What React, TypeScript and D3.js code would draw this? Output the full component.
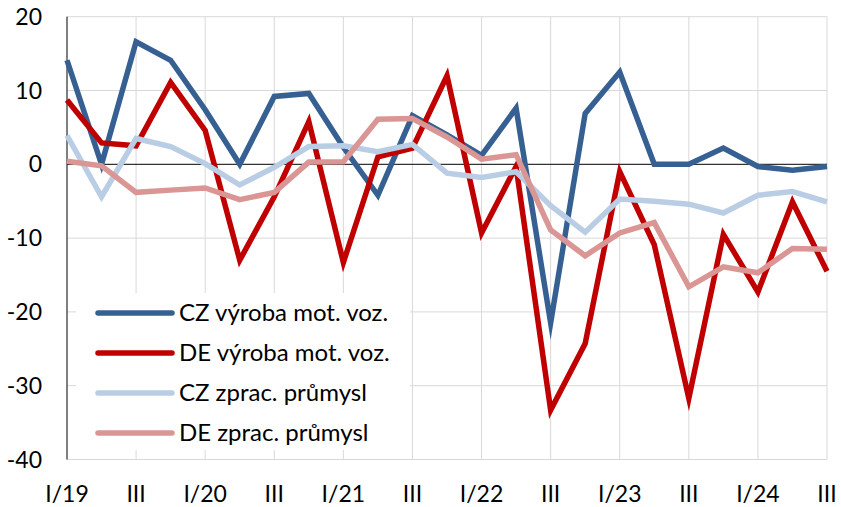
import React, { useEffect, useRef } from "react";
import * as d3 from "d3";

// quarters I/19 .. III/24
const quarters = [
  "I/19", "II/19", "III/19", "IV/19",
  "I/20", "II/20", "III/20", "IV/20",
  "I/21", "II/21", "III/21", "IV/21",
  "I/22", "II/22", "III/22", "IV/22",
  "I/23", "II/23", "III/23", "IV/23",
  "I/24", "II/24", "III/24",
];
const tickLabels = ["I/19", "III", "I/20", "III", "I/21", "III", "I/22", "III", "I/23", "III", "I/24", "III"];

const czCars = [14.1, 0, 16.6, 14.1, 7.4, 0.0, 9.2, 9.6, 2.3, -4.2, 6.6, 4.0, 1.2, 7.6, -21.5, 6.9, 12.5, 0, 0, 2.2, -0.3, -0.8, -0.3];
const deCars = [8.7, 2.9, 2.5, 11.1, 4.6, -13.0, -4.4, 5.8, -13.3, 1.0, 2.2, 12.0, -9.3, -0.3, -33.3, -24.3, -1.0, -10.9, -31.7, -9.5, -17.3, -5.1, -14.5];
const czManuf = [3.9, -4.4, 3.5, 2.4, 0.1, -2.8, -0.4, 2.4, 2.5, 1.7, 2.7, -1.2, -1.8, -1.0, -5.6, -9.2, -4.7, -5.0, -5.4, -6.6, -4.2, -3.7, -5.1];
const deManuf = [0.4, -0.2, -3.8, -3.5, -3.2, -4.8, -3.8, 0.3, 0.35, 6.1, 6.2, 3.7, 0.7, 1.3, -8.9, -12.4, -9.3, -7.9, -16.6, -13.9, -14.7, -11.4, -11.5];

const series = [
  { name: "CZ výroba mot. voz.", values: czCars, color: "#376092" },
  { name: "DE výroba mot. voz.", values: deCars, color: "#c00000" },
  { name: "CZ zprac. průmysl", values: czManuf, color: "#b9cde5" },
  { name: "DE zprac. průmysl", values: deManuf, color: "#d99694" },
];

const yTicks = [20, 10, 0, -10, -20, -30, -40];

const width = 841;
const height = 507;
const font = "Lato, 'Noto Sans', sans-serif";

const App = () => {
  const ref = useRef<SVGSVGElement>(null);

  useEffect(() => {
    const svg = d3.select(ref.current);
    svg.selectAll("*").remove();

    const x = d3.scalePoint<string>().domain(quarters).range([67, 827]);
    const y = d3.scaleLinear().domain([-40, 20]).range([459.5, 16.7]);

    // horizontal grid
    svg.append("g")
      .selectAll("line")
      .data(yTicks.filter(d => d !== 0))
      .join("line")
      .attr("x1", 67).attr("x2", 827)
      .attr("y1", d => y(d)).attr("y2", d => y(d))
      .attr("stroke", "#d9d9d9").attr("stroke-width", 1);

    // vertical grid at every second quarter
    const gridQ = quarters.filter((_, i) => i % 2 === 0);
    svg.append("g")
      .selectAll("line")
      .data(gridQ.slice(1))
      .join("line")
      .attr("x1", d => x(d)!).attr("x2", d => x(d)!)
      .attr("y1", y(20)).attr("y2", y(-40))
      .attr("stroke", "#d9d9d9").attr("stroke-width", 1);

    // zero line and left axis
    svg.append("line")
      .attr("x1", 67).attr("x2", 827)
      .attr("y1", y(0)).attr("y2", y(0))
      .attr("stroke", "#000").attr("stroke-width", 1);
    svg.append("line")
      .attr("x1", 67).attr("x2", 67)
      .attr("y1", y(20)).attr("y2", y(-40))
      .attr("stroke", "#000").attr("stroke-width", 1);

    // y labels
    svg.append("g")
      .selectAll("text")
      .data(yTicks)
      .join("text")
      .attr("x", 42)
      .attr("y", d => y(d) + 8)
      .attr("text-anchor", "end")
      .attr("font-family", font)
      .attr("font-size", 23)
      .attr("fill", "#000")
      .text(d => d);

    // x labels
    svg.append("g")
      .selectAll("text")
      .data(gridQ)
      .join("text")
      .attr("x", d => x(d)!)
      .attr("y", 502)
      .attr("text-anchor", "middle")
      .attr("font-family", font)
      .attr("font-size", 23)
      .attr("fill", "#000")
      .text((_, i) => tickLabels[i]);

    // legend background
    svg.append("rect")
      .attr("x", 76).attr("y", 293)
      .attr("width", 334).attr("height", 157)
      .attr("fill", "#fff");

    // lines
    const line = d3.line<number>()
      .x((_, i) => x(quarters[i])!)
      .y(d => y(d));

    svg.append("g")
      .selectAll("path")
      .data(series)
      .join("path")
      .attr("d", d => line(d.values))
      .attr("fill", "none")
      .attr("stroke", d => d.color)
      .attr("stroke-width", 5.5)
      .attr("stroke-linejoin", "miter")
      .attr("stroke-miterlimit", 10);

    // legend
    const lg = svg.append("g")
      .selectAll("g")
      .data(series)
      .join("g")
      .attr("transform", (_, i) => `translate(0,${313 + i * 40})`);
    lg.append("line")
      .attr("x1", 98).attr("x2", 172)
      .attr("stroke", d => d.color)
      .attr("stroke-width", 5.5)
      .attr("stroke-linecap", "round");
    lg.append("text")
      .attr("x", 179)
      .attr("y", 8)
      .attr("font-family", font)
      .attr("font-size", 24)
      .attr("fill", "#000")
      .text(d => d.name);
  }, []);

  return (
    <div style={{ position: "absolute", left: 0, top: 0 }}>
      <svg ref={ref} width={width} height={height} style={{ display: "block", background: "#fff" }} />
    </div>
  );
};

export default App;
